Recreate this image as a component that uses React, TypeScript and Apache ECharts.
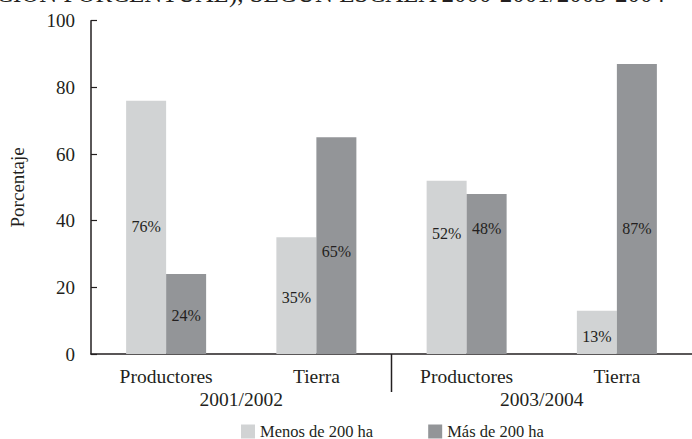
import React, { useEffect, useRef } from "react";
import * as echarts from "echarts";

const categories = ["Productores", "Tierra", "Productores", "Tierra"];
const periods = ["2001/2002", "2003/2004"];
const seriesNames = ["Menos de 200 ha", "Más de 200 ha"];
const menos200 = [76, 35, 52, 13];
const mas200 = [24, 65, 48, 87];
const yTicks = [0, 20, 40, 60, 80, 100];
const titleText = "(DISTRIBUCIÓN PORCENTUAL), SEGÚN ESCALA 2000-2001/2003-2004";

// pixel shifts of the in-bar labels relative to bar centre (style only)
const menosLabelShift = [-1, 1.5, -34, 4];
const masLabelShift = [1, 6, -46, 19];

const FONT = "Liberation Serif";
const TEXT = "#231f20";
const LIGHT = "#d1d3d4";
const DARK = "#939598";

export default function App() {
  const ref = useRef<HTMLDivElement>(null);
  useEffect(() => {
    if (!ref.current) return;
    const chart = echarts.init(ref.current, null, { renderer: "svg" });
    const mkData = (vals: number[], shifts: number[]) =>
      vals.map((v, i) => ({
        value: v,
        label: { offset: [0, shifts[i]] },
      }));
    const labelCfg = {
      show: true,
      position: "inside",
      formatter: (p: any) => `${p.value}%`,
      fontFamily: FONT,
      fontSize: 16,
      color: TEXT,
    };
    chart.setOption({
      animation: false,
      textStyle: { fontFamily: FONT, color: TEXT },
      grid: { left: 89, right: -3, top: 20.7, bottom: 85, containLabel: false },
      legend: {
        left: 241,
        top: 423,
        padding: 0,
        itemWidth: 14,
        itemHeight: 14,
        itemGap: 55,
        icon: "rect",
        textStyle: { fontFamily: FONT, fontSize: 16.5, color: TEXT, lineHeight: 15 },
        data: seriesNames,
      },
      xAxis: [
        {
          type: "category",
          data: categories,
          position: "bottom",
          axisLine: { show: true, lineStyle: { color: TEXT, width: 1.5 } },
          axisTick: { show: false },
          axisLabel: { fontFamily: FONT, fontSize: 19.5, color: TEXT, margin: 12, interval: 0 },
        },
        {
          type: "category",
          data: periods,
          position: "bottom",
          axisLine: { show: false },
          axisTick: { show: false },
          axisLabel: { fontFamily: FONT, fontSize: 19.5, color: TEXT, margin: 35.5, interval: 0 },
        },
      ],
      yAxis: {
        type: "value",
        min: 0,
        max: 100,
        interval: 20,
        name: "Porcentaje",
        nameLocation: "middle",
        nameGap: 64,
        nameTextStyle: { fontFamily: FONT, fontSize: 19, color: TEXT },
        axisLine: { show: true, lineStyle: { color: TEXT, width: 1.5 } },
        axisTick: { show: true, inside: true, length: 6, lineStyle: { color: TEXT, width: 1.2 } },
        splitLine: { show: false },
        axisLabel: {
          fontFamily: FONT,
          fontSize: 19,
          color: TEXT,
          margin: 16,
          formatter: (v: number) => (yTicks.includes(v) ? String(v) : ""),
        },
      },
      series: [
        {
          name: seriesNames[0],
          type: "bar",
          xAxisIndex: 0,
          barWidth: 40,
          barGap: "0%",
          itemStyle: { color: LIGHT },
          label: labelCfg,
          data: mkData(menos200, menosLabelShift),
        },
        {
          name: seriesNames[1],
          type: "bar",
          xAxisIndex: 0,
          barWidth: 40,
          barGap: "0%",
          itemStyle: { color: DARK },
          label: labelCfg,
          data: mkData(mas200, masLabelShift),
        },
      ],
    });
    const x1 = chart.convertToPixel({ xAxisIndex: 0 }, 1) as number;
    const x2 = chart.convertToPixel({ xAxisIndex: 0 }, 2) as number;
    const y0 = chart.convertToPixel({ yAxisIndex: 0 }, 0) as number;
    const xm = (x1 + x2) / 2;
    chart.setOption({
      graphic: [
        {
          type: "line",
          shape: { x1: xm, y1: y0, x2: xm, y2: y0 + 38 },
          style: { stroke: TEXT, lineWidth: 1.5 },
        },
        {
          type: "text",
          x: 665,
          y: 6,
          style: {
            text: titleText,
            fontFamily: FONT,
            fontSize: 25,
            fill: TEXT,
            textAlign: "right",
            textVerticalAlign: "bottom",
          },
        },
      ],
    });
    return () => chart.dispose();
  }, []);
  return (
    <div
      ref={ref}
      style={{ position: "absolute", left: 0, top: 0, width: 692, height: 439, background: "#fff" }}
    />
  );
}
